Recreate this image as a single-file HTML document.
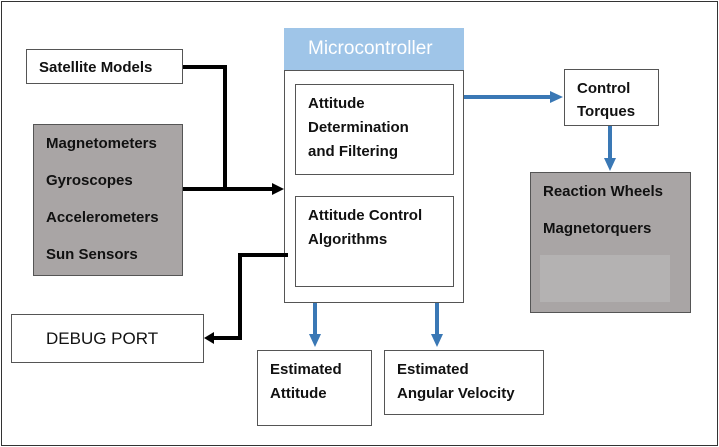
<!DOCTYPE html>
<html><head><style>
body{margin:0;width:719px;height:447px;background:#fff;font-family:"Liberation Sans",sans-serif;overflow:hidden}
.b{position:absolute;box-sizing:border-box;border:1.5px solid #555;background:#fff;font-weight:bold;font-size:15px;color:#111}
.g{background:#a9a5a5}
</style></head><body>
<div class="b" style="left:1px;top:1px;width:717px;height:445px;border:1.5px solid #333"></div>
<div class="b" style="left:26px;top:49px;width:157px;height:35px;padding:9px 0 0 12px">Satellite Models</div>
<div class="b g" style="left:33px;top:124px;width:150px;height:152px;padding:0 0 0 12px;line-height:37px">Magnetometers<br>Gyroscopes<br>Accelerometers<br>Sun Sensors</div>
<div class="b" style="left:284px;top:28px;width:180px;height:42px;background:#9fc5e8;border:none;color:#fff;font-weight:normal;font-size:19px;padding:10px 0 0 24px">Microcontroller</div>
<div class="b" style="left:284px;top:70px;width:180px;height:233px"></div>
<div class="b" style="left:295px;top:84px;width:159px;height:91px;padding:7px 0 0 12px;line-height:24px">Attitude<br>Determination<br>and Filtering</div>
<div class="b" style="left:295px;top:196px;width:159px;height:91px;padding:7px 0 0 12px;line-height:24px">Attitude Control<br>Algorithms</div>
<div class="b" style="left:564px;top:69px;width:95px;height:57px;padding:7px 0 0 12px;line-height:23px">Control<br>Torques</div>
<div class="b g" style="left:530px;top:172px;width:161px;height:141px;padding:0 0 0 12px;line-height:37px">Reaction Wheels<br>Magnetorquers</div>
<div style="position:absolute;left:540px;top:255px;width:130px;height:47px;background:#b4b2b2"></div>
<div class="b" style="left:11px;top:314px;width:193px;height:49px;font-weight:normal;font-size:17px;padding:14px 0 0 34px">DEBUG PORT</div>
<div class="b" style="left:257px;top:350px;width:115px;height:76px;padding:7px 0 0 12px;line-height:24px">Estimated<br>Attitude</div>
<div class="b" style="left:384px;top:350px;width:160px;height:65px;padding:7px 0 0 12px;line-height:24px">Estimated<br>Angular Velocity</div>
<svg width="719" height="447" style="position:absolute;left:0;top:0">
<g fill="none" stroke="#000" stroke-width="4">
<polyline points="183,67 225,67 225,189"/>
<line x1="183" y1="189" x2="274" y2="189"/>
<polyline points="288,255 240,255 240,338 212,338"/>
</g>
<polygon points="284,189 272,183 272,195" fill="#000"/>
<polygon points="204,338 214,332 214,344" fill="#000"/>
<g stroke="#3a78b5" stroke-width="4">
<line x1="464" y1="97" x2="552" y2="97"/>
<line x1="610" y1="126" x2="610" y2="160"/>
<line x1="315" y1="303" x2="315" y2="336"/>
<line x1="437" y1="303" x2="437" y2="336"/>
</g>
<g fill="#3a78b5">
<polygon points="563,97 550,91 550,103"/>
<polygon points="610,171 604,158 616,158"/>
<polygon points="315,347 309,334 321,334"/>
<polygon points="437,347 431,334 443,334"/>
</g>
</svg>
</body></html>
